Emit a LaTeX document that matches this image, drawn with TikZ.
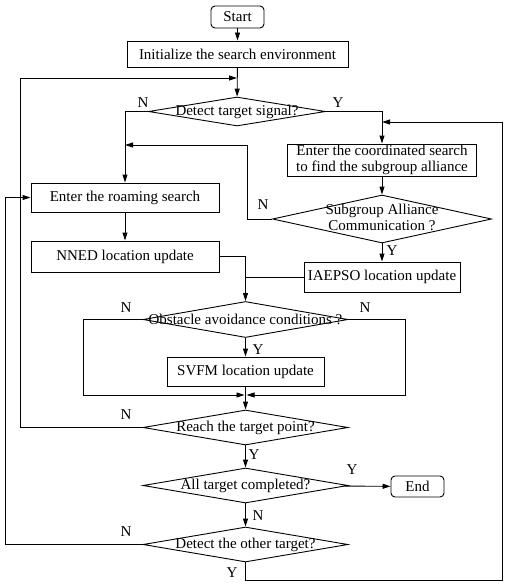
\documentclass[tikz,border=0pt]{standalone}
\usepackage{fontspec}
\setmainfont{Liberation Serif}
\usetikzlibrary{shapes.geometric,arrows.meta}
\newcommand{\ztext}[1]{\makebox[0pt]{#1}}
\begin{document}
\begin{tikzpicture}[x=1pt,y=-1pt,
  font=\fontsize{15}{16}\selectfont,
  line width=0.9pt,
  box/.style={draw,rectangle,inner sep=0pt,align=center},
  term/.style={draw,rectangle,rounded corners=4pt,inner sep=0pt},
  dec/.style={draw,diamond,inner sep=0pt,align=center},
  lab/.style={inner sep=0pt},
  arr/.style={-{Triangle[length=8pt,width=5pt]}}]
\useasboundingbox (0,0) rectangle (510,586);
\node[term,minimum width=53pt,minimum height=22pt] (start) at (237.5,17) {Start};
\node[box,minimum width=221pt,minimum height=26pt] (init) at (237.5,54) {Initialize the search environment};
\node[dec,minimum width=177pt,minimum height=29pt] (d1) at (237,111.5) {\ztext{Detect target signal?}};
\node[box,minimum width=189pt,minimum height=32pt] (coord) at (382,160) {Enter the coordinated search\\to find the subgroup alliance};
\node[dec,minimum width=219pt,minimum height=48pt] (d2) at (382,219) {\ztext{\begin{tabular}{@{}c@{}}Subgroup Alliance\\Communication ?\end{tabular}}};
\node[box,minimum width=156pt,minimum height=30pt] (iaepso) at (382,277) {IAEPSO location update};
\node[box,minimum width=188pt,minimum height=29pt] (roam) at (125,197.5) {Enter the roaming search};
\node[box,minimum width=188pt,minimum height=31pt] (nned) at (125,256.5) {NNED location update};
\node[dec,minimum width=205pt,minimum height=36pt] (d3) at (245.5,319.5) {\ztext{Obstacle avoidance conditions ?}};
\node[box,minimum width=157pt,minimum height=29pt] (svfm) at (245.5,371.5) {SVFM location update};
\node[dec,minimum width=205pt,minimum height=35pt] (d4) at (245.5,427.5) {\ztext{Reach the target point?}};
\node[dec,minimum width=205pt,minimum height=35pt] (d5) at (245.5,485.5) {\ztext{All target completed?}};
\node[term,minimum width=53pt,minimum height=21pt] (endn) at (417.5,486.5) {End};
\node[dec,minimum width=205pt,minimum height=35pt] (d6) at (245.5,544.5) {\ztext{Detect the other target?}};

% labels
\node[lab] (n1) at (143,103) {N};
\node[lab] (y1) at (338,103) {Y};
\node[lab] (n2) at (263,205) {N};
\node[lab] (y2) at (392,251) {Y};
\node[lab] (n3l) at (126,308) {N};
\node[lab] (n3r) at (365,308) {N};
\node[lab] (y3) at (258,350) {Y};
\node[lab] (n4) at (126,415) {N};
\node[lab] (y4) at (254,455) {Y};
\node[lab] (y5) at (352,470) {Y};
\node[lab] (n5) at (258,516) {N};
\node[lab] (n6) at (126,532) {N};
\node[lab] (y6) at (232,573) {Y};

% coordinates
\coordinate (lA) at (20,78);
\coordinate (nB) at (247,145);
\coordinate (mL) at (83,395);
\coordinate (mR) at (405,395);
\coordinate (lB) at (5,197.5);
\coordinate (rB) at (502,580);
\coordinate (rT) at (502,122);
\coordinate (mLt) at (244.5,395);
\coordinate (mRt) at (246.5,395);

% connectors
\draw[arr] (start) -- (init);
\draw[arr] (init) -- (d1);
\draw[arr] (d4.west) -| (lA) -- (lA -| d1.north);
\draw[arr] (d1.west) -| (roam.north);
\draw[arr] (d1.east) -| (coord.north);
\draw[arr] (coord) -- (d2);
\draw[arr] (d2.west) -| (nB) -- (nB -| roam.north);
\draw[arr] (d2) -- (iaepso);
\draw[arr] (roam) -- (nned);
\draw[arr] (nned.east) -| (d3.north);
\draw (iaepso.west) -- (iaepso.west -| d3.north);
\draw[arr] (d3.west) -| (mL) -- (mLt);
\draw[arr] (d3.east) -| (mR) -- (mRt);
\draw[arr] (d3) -- (svfm);
\draw[arr] (svfm) -- (d4);
\draw[arr] (d4) -- (d5);
\draw[arr] (d5) -- (endn);
\draw[arr] (d5) -- (d6);
\draw[arr] (d6.west) -| (lB) -- (roam.west);
\draw[arr] (d6.south) |- (rB) -- (rT) -- (rT -| coord.north);
\end{tikzpicture}
\end{document}
